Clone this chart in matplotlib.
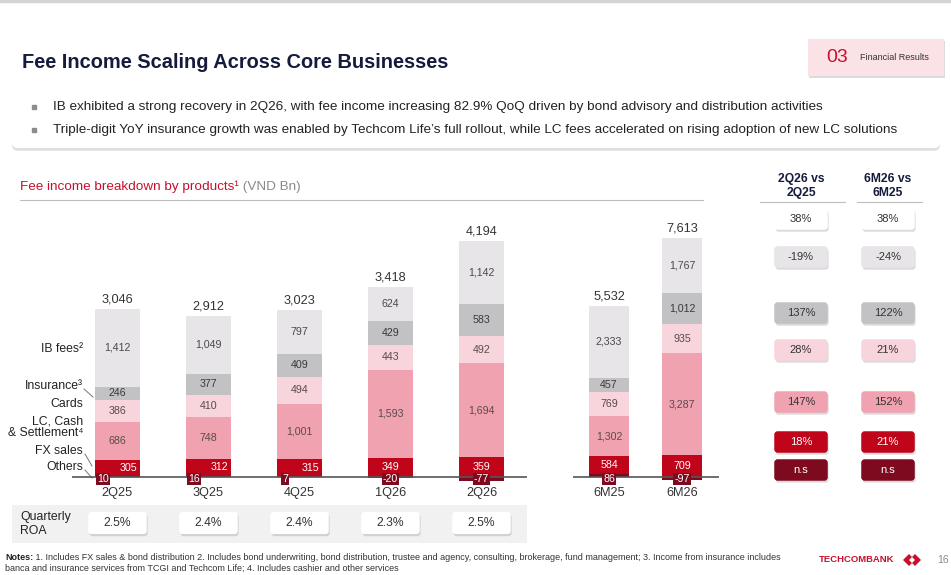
"""Fee income breakdown slide: stacked bars by product, quarterly and half-year."""
import matplotlib

matplotlib.use("Agg")
import matplotlib.pyplot as plt
import matplotlib.patheffects as pe
from matplotlib.patches import FancyBboxPatch, Rectangle, Polygon

plt.rcParams["font.family"] = ["Liberation Sans", "DejaVu Sans"]

W, H = 951, 575

quarters = ["2Q25", "3Q25", "4Q25", "1Q26", "2Q26"]
halves = ["6M25", "6M26"]

# segments, bottom to top
q_others = [10, 16, 7, -20, -77]
q_fx = [305, 312, 315, 349, 359]
q_lc = [686, 748, 1001, 1593, 1694]
q_cards = [386, 410, 494, 443, 492]
q_insurance = [246, 377, 409, 429, 583]
q_ib = [1412, 1049, 797, 624, 1142]
q_total = [3046, 2912, 3023, 3418, 4194]

h_others = [86, -97]
h_fx = [584, 709]
h_lc = [1302, 3287]
h_cards = [769, 935]
h_insurance = [457, 1012]
h_ib = [2333, 1767]
h_total = [5532, 7613]

roa = ["2.5%", "2.4%", "2.4%", "2.3%", "2.5%"]

growth_q = ["38%", "-19%", "137%", "28%", "147%", "18%", "n.s"]
growth_h = ["38%", "-24%", "122%", "21%", "152%", "21%", "n.s"]

C_OTHERS = "#7d0a1f"
C_FX = "#c0041a"
C_LC = "#f0a2b0"
C_CARDS = "#f8d4dc"
C_INS = "#c2c1c3"
C_IB = "#e7e5e7"
C_TOTAL = "#ffffff"
NAVY = "#141b3c"
RED = "#c8102e"
PX = 0.72  # points per pixel at dpi 100


def fig_rect(x0, y0, w, h):
    """Pixel box (y down) to figure fraction."""
    return [x0 / W, 1 - (y0 + h) / H, w / W, h / H]


fig = plt.figure(figsize=(W / 100, H / 100), dpi=100, facecolor="white")
bg = fig.add_axes([0, 0, 1, 1], zorder=0)
bg.set_xlim(0, W)
bg.set_ylim(H, 0)
bg.axis("off")

shadow = [pe.withSimplePatchShadow(offset=(0.8, -1.6), shadow_rgbFace="#9a9a9a", alpha=0.35), pe.Normal()]


def pill(x, y, w, h, fc, text, tc, fs=8, r=3):
    p = FancyBboxPatch((x - w / 2, y - h / 2), w, h, boxstyle=f"round,pad=0,rounding_size={r}",
                       fc=fc, ec="none", zorder=2)
    p.set_path_effects(shadow)
    bg.add_patch(p)
    bg.text(x, y, text, ha="center", va="center", fontsize=fs, color=tc, zorder=3)


# header
bg.plot([0, W], [1, 1], color="#d4d4d4", lw=2.5)
bg.text(22, 63, "Fee Income Scaling Across Core Businesses", fontsize=14.4, fontweight="bold",
        color=NAVY, va="center")
sec = FancyBboxPatch((808, 39), 136, 37, boxstyle="square,pad=0", fc="#fbe2e7", ec="none")
sec.set_path_effects(shadow)
bg.add_patch(sec)
bg.text(837, 57, "03", fontsize=14, color=RED, ha="center", va="center")
bg.text(860, 57, "Financial Results", fontsize=6.5, color="#333333", va="center")

box = FancyBboxPatch((12, 88), 928, 60, boxstyle="round,pad=0,rounding_size=6", fc="white", ec="none")
box.set_path_effects([pe.withSimplePatchShadow(offset=(0, -2), shadow_rgbFace="#b0b0b0", alpha=0.4),
                      pe.Normal()])
bg.add_patch(box)
bullets = [
    "IB exhibited a strong recovery in 2Q26, with fee income increasing 82.9% QoQ driven by bond "
    "advisory and distribution activities",
    "Triple-digit YoY insurance growth was enabled by Techcom Life\u2019s full rollout, while LC fees "
    "accelerated on rising adoption of new LC solutions",
]
for yy, line in zip([107, 130], bullets):
    bg.plot(34, yy, marker="s", ms=3.2, color="#8c8c8c")
    bg.text(53, yy, line, fontsize=9.7, color="#222222", va="center")

# chart subtitle
t1 = bg.text(20, 187, "Fee income breakdown by products\u00b9", fontsize=9.7, color=RED, va="center")
bg.annotate(" (VND Bn)", xy=(1, 0.5), xycoords=t1, fontsize=9.7, color="#8a8a8a", va="center")
bg.plot([20, 703], [200, 200], color="#bdbdbd", lw=0.8)

# growth columns
for cx, head in [(801, "2Q26 vs\n2Q25"), (888, "6M26 vs\n6M25")]:
    bg.text(cx, 186, head, fontsize=8.7, fontweight="bold", color=NAVY, ha="center", va="center",
            linespacing=1.15)
bg.plot([760, 845], [202, 202], color="#bdbdbd", lw=0.8)
bg.plot([857, 922], [202, 202], color="#bdbdbd", lw=0.8)
row_y = [219, 257, 313, 350, 402, 442, 470]
row_fc = [C_TOTAL, C_IB, C_INS, C_CARDS, C_LC, C_FX, C_OTHERS]
row_tc = ["#333333"] * 5 + ["white", "white"]
for vals, cx in [(growth_q, 801), (growth_h, 888)]:
    for v, yy, fc, tc in zip(vals, row_y, row_fc, row_tc):
        pill(cx, yy, 53, 21, fc, v, tc, fs=8)

# left-hand legend labels
lab_kw = dict(fontsize=8.8, color="#222222", ha="right", va="center")
bg.text(83, 349, "IB fees\u00b2", **lab_kw)
bg.text(83, 386, "Insurance\u00b3", **lab_kw)
bg.text(83, 404, "Cards", **lab_kw)
bg.text(83, 427, "LC, Cash\n& Settlement\u2074", linespacing=1.0, **lab_kw)
bg.text(83, 451, "FX sales", **lab_kw)
bg.text(83, 467, "Others", **lab_kw)
for (x0, y0), (x1, y1) in [((84, 389), (93, 397)), ((85, 454), (92, 466)), ((85, 470), (92, 478))]:
    bg.plot([x0, x1], [y0, y1], color="#777777", lw=0.7)

# ROA band
bg.add_patch(Rectangle((12, 505), 515, 38, fc="#f1f1f1", ec="none"))
bg.text(20, 524, "Quarterly\nROA", fontsize=8.8, color="#222222", va="center", linespacing=1.15)

# footer
n1 = bg.text(5, 557, "Notes:", fontsize=6.5, fontweight="bold", color="#222222", va="center")
bg.annotate(" 1. Includes FX sales & bond distribution 2. Includes bond underwriting, bond distribution, "
            "trustee and agency, consulting, brokerage, fund management; 3. Income from insurance "
            "includes", xy=(1, 0.5), xycoords=n1, fontsize=6.5, color="#333333", va="center")
bg.text(5, 568, "banca and insurance services from TCGI and Techcom Life; 4. Includes cashier and other "
        "services", fontsize=6.5, color="#333333", va="center")
bg.text(894, 560, "TECHCOMBANK", fontsize=6.8, fontweight="bold", color=RED, ha="right", va="center")
bg.add_patch(Polygon([[903, 560], [909, 554], [912, 557], [909, 560], [912, 563], [909, 566]],
                     fc=RED, ec="none"))
bg.add_patch(Polygon([[921, 560], [915, 554], [912, 557], [915, 560], [912, 563], [915, 566]],
                     fc=RED, ec="none"))
bg.text(937, 560, "16", fontsize=7.5, color="#8a8a8a", va="center")


def draw_stack(ax, cats, others, fx, lc, cards, ins, ib, total, width, split):
    x = list(range(len(cats)))
    ax.bar(x, others, width, color=C_OTHERS, zorder=2)
    base = [max(o, 0) for o in others]
    layers = [(fx, C_FX, "white"), (lc, C_LC, "#5a4a4e"), (cards, C_CARDS, "#5a4a4e"),
              (ins, C_INS, "#3a3a3a"), (ib, C_IB, "#4a4a4a")]
    for vals, color, tc in layers:
        ax.bar(x, vals, width, bottom=base, color=color, zorder=2)
        for i, v in enumerate(vals):
            dx = 0.12 if (split and vals is fx and others[i] > 0) else 0
            ax.text(i + dx, base[i] + v / 2, f"{v:,}", ha="center", va="center", fontsize=7.7,
                    color=tc, zorder=3)
        base = [b + v for b, v in zip(base, vals)]
    for i, o in enumerate(others):
        dx = -0.16 if (split and o > 0) else 0
        ax.annotate(f"{o:,}", xy=(i + dx, 0), xytext=(0, -2 * PX), textcoords="offset points",
                    ha="center", va="center", fontsize=7.7, color="white", zorder=4,
                    bbox=dict(boxstyle="square,pad=0.12", fc=C_OTHERS, ec="none"))
        ax.annotate(f"{total[i]:,}", xy=(i, base[i]), xytext=(0, 9 * PX), textcoords="offset points",
                    ha="center", va="center", fontsize=9.2, color="#333333")
        ax.annotate(cats[i], xy=(i, 0), xytext=(0, -16 * PX), textcoords="offset points",
                    ha="center", va="center", fontsize=9.2, color="#333333")
    ax.axhline(0, color="#555555", lw=1.2, zorder=3)
    ax.set_xlim(-0.5, len(cats) - 0.5)
    ax.axis("off")


ax_q = fig.add_axes(fig_rect(72, 230, 455, 270), zorder=1)
ax_q.patch.set_alpha(0)
draw_stack(ax_q, quarters, q_others, q_fx, q_lc, q_cards, q_insurance, q_ib, q_total, 0.49, True)
ax_q.set_ylim(-23 / 0.0553, 247 / 0.0553)

ax_h = fig.add_axes(fig_rect(572.5, 230, 146, 270), zorder=1)
ax_h.patch.set_alpha(0)
draw_stack(ax_h, halves, h_others, h_fx, h_lc, h_cards, h_insurance, h_ib, h_total, 0.55, False)
ax_h.set_ylim(-23 / 0.031, 247 / 0.031)

# ROA pills under each quarterly bar
for i, v in enumerate(roa):
    cx = 72 + (i + 0.5) * 455 / len(roa)
    pill(cx, 523, 58, 22, "white", v, "#333333", fs=8.7)

fig.savefig("out.png", dpi=100, facecolor="white")
